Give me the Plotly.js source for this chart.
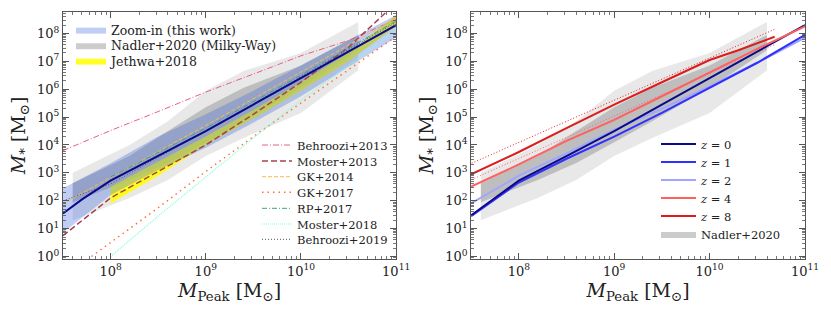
<!DOCTYPE html>
<html>
<head>
<meta charset="utf-8">
<script src="https://cdn.plot.ly/plotly-3.0.1.min.js"></script>
<style>html,body{margin:0;padding:0;background:#fff;}#chart{width:831px;height:312px;}</style>
</head>
<body>
<div id="chart"></div>
<script>
// ---------- data (M_peak in Msun, M_star in Msun) ----------
// Zoom-in (this work): median and scatter band
const zoomMedX = [3.16e7, 5.01e7, 7.94e7, 1e8, 1.26e8, 3.16e8, 1e9, 3.16e9, 1e10, 3.16e10, 1e11];
const zoomMedY = [35, 112, 316, 525, 794, 3.98e3, 3.16e4, 2.82e5, 2.51e6, 2.24e7, 2.0e8];
const zoomBandX = [3.16e7, 1e8, 3.16e8, 1e9, 3.16e9, 1e10, 3.16e10, 1e11];
const zoomBandHi = [2.8e2, 2.2e3, 2.0e4, 1.26e5, 8.9e5, 7.1e6, 5.6e7, 4.6e8];
const zoomBandLo = [7.1, 1.6e2, 1.26e3, 7.9e3, 6.3e4, 5.6e5, 6.3e6, 7.1e7];

// Nadler+2020 (Milky-Way): 1-sigma (dark) and 2-sigma (light) bands
const nadlerX = [4e7, 1.58e8, 4e8, 1e9, 2.5e9, 1e10, 4e10];
const nadlerHi2 = [1.0e3, 1.0e4, 7.1e4, 8.9e5, 4.5e6, 2.0e7, 2.6e8];
const nadlerHi1 = [4.2e2, 4.0e3, 3.2e4, 2.24e5, 1.12e6, 7.1e6, 8.9e7];
const nadlerLo1 = [89, 5.6e2, 2.24e3, 1.26e4, 7.1e4, 1.12e6, 2.5e7];
const nadlerLo2 = [20, 1.26e2, 5.6e2, 4.0e3, 1.78e4, 1.41e5, 4.8e6];

// Jethwa+2018 band
const jethwaX = [1e8, 3.16e8, 1e9, 3.16e9, 1e10, 3.16e10, 1e11];
const jethwaHi = [3.2e2, 2.5e3, 2.0e4, 1.78e5, 1.78e6, 2.0e7, 4.5e8];
const jethwaLo = [80, 7.9e2, 1.0e4, 8.9e4, 8.9e5, 1.0e7, 1.78e8];

// Literature relations
const behroozi13X = [3.16e7, 1e8, 3.16e8, 1e9, 3.16e9, 1e10, 3.16e10, 1e11];
const behroozi13Y = [6.3e3, 3.3e4, 1.58e5, 7.9e5, 3.5e6, 1.58e7, 5.6e7, 3.2e8];
const moster13X = [3.16e7, 1e8, 3.16e8, 1e9, 3.16e9, 1e10, 3.16e10, 7.94e10];
const moster13Y = [5.6, 1.26e2, 1.12e3, 1.0e4, 1.26e5, 1.78e6, 3.2e7, 6.0e8];
const gk14X = [3.16e7, 1e9, 1e11];
const gk14Y = [79, 5.0e4, 3.5e8];
const gk17X = [6.3e7, 3.16e8, 1e9, 3.16e9, 1e10, 3.16e10, 1e11];
const gk17Y = [1.0, 56, 1.12e3, 2.0e4, 3.2e5, 5.0e6, 7.9e7];
const rp17X = [1e8, 1e9, 1e10, 1e11];
const rp17Y = [7.1e2, 4.0e4, 3.2e6, 2.8e8];
const moster18X = [1e8, 3.16e8, 1e9, 3.16e9, 1e10, 3.16e10, 1e11];
const moster18Y = [1.0, 28, 7.1e2, 1.78e4, 4.0e5, 7.1e6, 1.26e8];
const behroozi19X = [3.16e7, 1e8, 1e9, 1e10, 1e11];
const behroozi19Y = [1.0e2, 4.0e2, 3.2e4, 2.8e6, 2.5e8];

// Redshift dependence (right panel)
const zX = [3.16e7, 1e8, 3.16e8, 1e9, 3.16e9, 1e10, 3.16e10, 1e11];
const z0Y = [30, 525, 3.98e3, 3.16e4, 2.82e5, 2.51e6, 2.24e7, 2.0e8];
const z1Y = [28, 4.5e2, 3.2e3, 2.0e4, 1.41e5, 1.12e6, 8.9e6, 8.9e7];
const z2Y = [80, 7.9e2, 5.0e3, 3.5e4, 2.0e5, 1.26e6, 8.9e6, 7.1e7];
const z4Y = [3.2e2, 2.0e3, 1.41e4, 7.9e4, 5.6e5, 4.0e6, 2.8e7, 1.78e8];
const z8X = [3.16e7, 1e8, 3.16e8, 1e9, 3.16e9, 1e10, 2.0e10, 4.8e10];
const z8Y = [8.9e2, 5.6e3, 4.0e4, 2.8e5, 1.78e6, 1.12e7, 2.5e7, 7.6e7];
const fitX = [3.0e7, 4.8e10];
const fit8Y = [2.0e3, 1.41e8];
const fit4Y = [5.2e2, 4.0e7];

// Tick labels
const xTickVals = [1e8, 1e9, 1e10, 1e11];
const xTickText = ['10<sup>8</sup>', '10<sup>9</sup>', '10<sup>10</sup>', '10<sup>11</sup>'];
const yTickVals = [1, 10, 100, 1e3, 1e4, 1e5, 1e6, 1e7, 1e8];
const yTickText = ['10<sup>0</sup>', '10<sup>1</sup>', '10<sup>2</sup>', '10<sup>3</sup>', '10<sup>4</sup>',
                   '10<sup>5</sup>', '10<sup>6</sup>', '10<sup>7</sup>', '10<sup>8</sup>'];

// ---------- helpers ----------
function band(xs, hi, lo) {
  return { x: xs.concat(xs.slice().reverse()), y: hi.concat(lo.slice().reverse()) };
}
const FONT = 'DejaVu Serif';
function leg(xpx, ycpx, iw, fs) {
  const o = { x: (xpx - 63) / 742, y: 1 - (ycpx - 12) / 247, xanchor: 'left', yanchor: 'middle',
    bgcolor: 'rgba(0,0,0,0)', borderwidth: 0, font: { family: FONT, size: fs || 11.5, color: '#222' } };
  if (iw) o.itemwidth = iw;
  return o;
}

const traces = [];
function bandTrace(xs, hi, lo, color, name, legendId, xa, ya) {
  const b = band(xs, hi, lo);
  traces.push({ x: b.x, y: b.y, mode: 'lines', fill: 'toself', fillcolor: color, line: { width: 0 },
    name: name || '', showlegend: !!name, legend: legendId || 'legend', xaxis: xa, yaxis: ya, hoverinfo: 'skip' });
}
function lineTrace(xs, ys, color, width, dash, name, legendId, xa, ya) {
  traces.push({ x: xs, y: ys, mode: 'lines', line: { color: color, width: width, dash: dash },
    name: name || '', showlegend: !!name, legend: legendId || 'legend', xaxis: xa, yaxis: ya });
}

// ---------- left panel ----------
bandTrace(nadlerX, nadlerHi2, nadlerLo2, 'rgba(128,128,128,0.18)', null, null, 'x', 'y');
bandTrace(nadlerX, nadlerHi1, nadlerLo1, 'rgba(128,128,128,0.40)', 'Nadler+2020 (Milky-Way)', 'legend2', 'x', 'y');
bandTrace(jethwaX, jethwaHi, jethwaLo, 'rgba(255,255,0,0.85)', 'Jethwa+2018', 'legend3', 'x', 'y');
bandTrace(zoomBandX, zoomBandHi, zoomBandLo, 'rgba(65,105,225,0.33)', 'Zoom-in (this work)', 'legend', 'x', 'y');

lineTrace(behroozi13X, behroozi13Y, '#e8607f', 1, '6px,2px,1px,2px', 'Behroozi+2013', 'legend4', 'x', 'y');
lineTrace(moster13X, moster13Y, '#a8414c', 1.5, '6px,3px', 'Moster+2013', 'legend5', 'x', 'y');
lineTrace(gk14X, gk14Y, '#ffb84a', 1, '4px,2px', 'GK+2014', 'legend6', 'x', 'y');
lineTrace(gk17X, gk17Y, '#ff7043', 1.5, '1.5px,4px', 'GK+2017', 'legend7', 'x', 'y');
lineTrace(rp17X, rp17Y, '#45a075', 1, '5px,2px,1px,2px', 'RP+2017', 'legend8', 'x', 'y');
lineTrace(moster18X, moster18Y, '#7fffd4', 1.2, '1px,1px', 'Moster+2018', 'legend9', 'x', 'y');
lineTrace(behroozi19X, behroozi19Y, '#505068', 1, '1px,2px', 'Behroozi+2019', 'legend10', 'x', 'y');
lineTrace(zoomMedX, zoomMedY, '#0b0b8a', 2, 'solid', null, null, 'x', 'y');

// ---------- right panel ----------
bandTrace(nadlerX, nadlerHi2, nadlerLo2, 'rgba(128,128,128,0.18)', null, null, 'x2', 'y2');
bandTrace(nadlerX, nadlerHi1, nadlerLo1, 'rgba(128,128,128,0.40)', 'Nadler+2020', 'legend16', 'x2', 'y2');
lineTrace(fitX, fit8Y, '#e02020', 1, '1px,2px', null, null, 'x2', 'y2');
lineTrace(fitX, fit4Y, '#ff6666', 1, '1px,2px', null, null, 'x2', 'y2');
lineTrace(zX, z2Y, '#a0a6ff', 2, 'solid', '<i>z</i> = 2', 'legend13', 'x2', 'y2');
lineTrace(zX, z1Y, '#3030ff', 2, 'solid', '<i>z</i> = 1', 'legend12', 'x2', 'y2');
lineTrace(zX, z0Y, '#0b0b8a', 2, 'solid', '<i>z</i> = 0', 'legend11', 'x2', 'y2');
lineTrace(zX, z4Y, '#ff6060', 2, 'solid', '<i>z</i> = 4', 'legend14', 'x2', 'y2');
lineTrace(z8X, z8Y, '#dd1c1c', 2, 'solid', '<i>z</i> = 8', 'legend15', 'x2', 'y2');

// ---------- layout ----------
function axis(extra) {
  return Object.assign({
    type: 'log', showline: true, linecolor: '#555', linewidth: 1, mirror: 'allticks',
    ticks: 'inside', ticklen: 6, tickwidth: 1, tickcolor: '#555',
    tickmode: 'array', showgrid: false, zeroline: false,
    tickfont: { family: FONT, size: 13, color: '#222' },
    minor: { ticks: 'inside', ticklen: 3, tickwidth: 0.8, tickcolor: '#555', dtick: 'D1', showgrid: false }
  }, extra);
}
const xTitle = { text: '<i>M</i><sub>Peak</sub> [M<sub>⊙</sub>]', standoff: 6, font: { family: FONT, size: 19, color: '#222' } };
const yTitle = { text: '<i>M</i><sub>*</sub> [M<sub>⊙</sub>]', standoff: 6, font: { family: FONT, size: 19, color: '#222' } };

const layout = {
  width: 831, height: 312,
  margin: { l: 63, r: 26, t: 12, b: 53 },
  paper_bgcolor: '#fff', plot_bgcolor: '#fff',
  font: { family: FONT, size: 11.5, color: '#222' },
  showlegend: true,
  xaxis: axis({ domain: [0, 0.449], range: [7.5, 11], anchor: 'y', title: xTitle, tickvals: xTickVals, ticktext: xTickText }),
  yaxis: axis({ domain: [0, 1], range: [-0.09, 8.77], anchor: 'x', title: yTitle, tickvals: yTickVals, ticktext: yTickText }),
  xaxis2: axis({ domain: [0.55, 1], range: [7.5, 11], anchor: 'y2', title: xTitle, tickvals: xTickVals, ticktext: xTickText }),
  yaxis2: axis({ domain: [0, 1], range: [-0.09, 8.77], anchor: 'x2', title: yTitle, tickvals: yTickVals, ticktext: yTickText }),
  legend: leg(71, 30, null, 12.5), legend2: leg(71, 45.5, null, 12.5), legend3: leg(71, 61, null, 12.5),
  legend4: leg(257, 145), legend5: leg(257, 161), legend6: leg(257, 176.7),
  legend7: leg(257, 192.3), legend8: leg(257, 208.3), legend9: leg(257, 224), legend10: leg(257, 239.3),
  legend11: leg(656, 144, 35), legend12: leg(656, 162, 35), legend13: leg(656, 180, 35),
  legend14: leg(656, 198, 35), legend15: leg(656, 216, 35), legend16: leg(656, 234, 35)
};

Plotly.newPlot('chart', traces, layout, { staticPlot: true, displayModeBar: false });
</script>
</body>
</html>
